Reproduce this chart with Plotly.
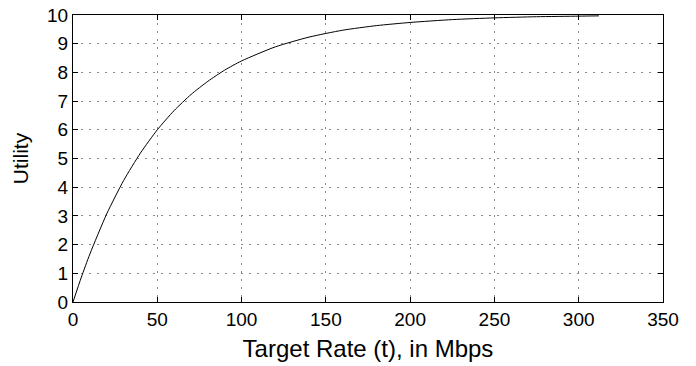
import plotly.graph_objects as go

rate = [0, 5, 10, 20, 30, 40, 50, 60, 70, 80, 90, 100, 120, 140, 160, 180, 200, 225, 250, 275, 300, 312]
utility = [0, 0.87, 1.67, 3.07, 4.23, 5.19, 6.0, 6.67, 7.23, 7.69, 8.08, 8.40, 8.89, 9.23, 9.47, 9.63, 9.74, 9.84, 9.90, 9.94, 9.96, 9.97]

x_ticks = [0, 50, 100, 150, 200, 250, 300, 350]
y_ticks = [0, 1, 2, 3, 4, 5, 6, 7, 8, 9, 10]

FONT = "Liberation Sans, Arial, Helvetica"

fig = go.Figure()
fig.add_trace(go.Scatter(x=rate, y=utility, mode="lines",
                         line=dict(color="black", width=1, shape="spline", smoothing=0.6),
                         showlegend=False, hoverinfo="skip"))

axis_common = dict(
    showline=True, linecolor="black", linewidth=1, mirror="ticks",
    ticks="inside", ticklen=5, tickcolor="black",
    showgrid=True, gridcolor="#8a8a8a", griddash="1.5px,6.5px", gridwidth=1,
    zeroline=False, automargin=False, ticklabeloverflow="allow",
    tickfont=dict(family=FONT, size=19, color="black"),
)

fig.update_layout(
    width=696, height=366,
    margin=dict(l=73, r=33, t=15, b=64),
    paper_bgcolor="white", plot_bgcolor="white",
    xaxis=dict(range=[0, 350], tickvals=x_ticks,
               title=dict(text="Target Rate (t), in Mbps", standoff=11,
                          font=dict(family=FONT, size=24, color="black")),
               **axis_common),
    yaxis=dict(range=[0, 10], tickvals=y_ticks,
               title=dict(text="Utility", standoff=12,
                          font=dict(family=FONT, size=21, color="black")),
               **axis_common),
)

fig.write_html("out.html",
               config={"displayModeBar": False},
               post_script="document.body.style.margin='0';document.body.style.overflow='hidden';")
